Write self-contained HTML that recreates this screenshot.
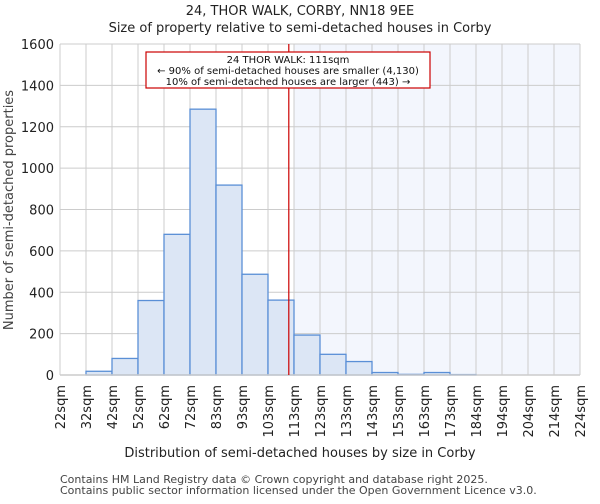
<!DOCTYPE html>
<html><head><meta charset="utf-8"><style>
body{margin:0;background:#fff;font-family:"DejaVu Sans","Liberation Sans",sans-serif;}
</style></head><body>
<svg width="600" height="500" xmlns="http://www.w3.org/2000/svg" font-family="DejaVu Sans, Liberation Sans, sans-serif">
<text x="300" y="15" text-anchor="middle" font-size="13" fill="#222">24, THOR WALK, CORBY, NN18 9EE</text>
<text x="300" y="32" text-anchor="middle" font-size="13" fill="#222">Size of property relative to semi-detached houses in Corby</text>
<g id="plot"></g>
<text x="300" y="457" text-anchor="middle" font-size="13" fill="#222">Distribution of semi-detached houses by size in Corby</text>
<text transform="translate(13,210) rotate(-90)" text-anchor="middle" font-size="13" fill="#444">Number of semi-detached properties</text>
<text x="60" y="483" font-size="11" fill="#444">Contains HM Land Registry data © Crown copyright and database right 2025.</text>
<text x="60" y="494" font-size="11" fill="#444">Contains public sector information licensed under the Open Government Licence v3.0.</text>
</svg>
<script>
const binEdges=[22,32,42,52,62,72,83,93,103,113,123,133,143,153,163,173,184,194,204,214,224];
const counts=[0,18,80,360,680,1285,918,487,362,193,100,65,12,3,12,2,0,0,0,0];
const yTicks=[0,200,400,600,800,1000,1200,1400,1600];
const propertyBinPos=8.8;
const highlightStartBin=9;
const NS="http://www.w3.org/2000/svg";
const g=document.getElementById('plot');
const L=60,R=580,T=44,B=375,yMax=1600;
const nb=counts.length;
const xb=i=>L+(R-L)*i/nb;
const y=v=>B-(B-T)*v/yMax;
function mk(t,a){const e=document.createElementNS(NS,t);for(const k in a)e.setAttribute(k,a[k]);g.appendChild(e);return e;}
let r=mk('rect',{x:xb(highlightStartBin),y:T,width:R-xb(highlightStartBin),height:B-T,fill:'#f3f6fd'});


yTicks.forEach(v=>{let l=mk('line',{x1:L,x2:R,y1:y(v),y2:y(v),stroke:'#ccc'});


let t=mk('text',{x:L-6,y:y(v)+5,'text-anchor':'end','font-size':13,fill:'#222'});t.textContent=v;

});
binEdges.forEach((v,i)=>{let l=mk('line',{x1:xb(i),x2:xb(i),y1:T,y2:B,stroke:'#ccc'});


let t=mk('text',{transform:`translate(${xb(i)+5},385) rotate(-90)`,'text-anchor':'end','font-size':13,fill:'#222'});t.textContent=v+'sqm';

});
counts.forEach((c,i)=>{let b=mk('rect',{x:xb(i),y:y(c),width:xb(i+1)-xb(i),height:B-y(c),fill:'#dce6f5',stroke:'#5a8fd6','stroke-width':1.3});

});
let ax=mk('line',{x1:L,x2:R,y1:B,y2:B,stroke:'#ccc','stroke-width':1.5});


const px=xb(propertyBinPos);
let pl=mk('line',{x1:px,x2:px,y1:T,y2:B,stroke:'#c00','stroke-width':1.2});


let box=mk('rect',{x:146,y:52,width:284,height:36,fill:'#fff',stroke:'#c00','stroke-width':1.2});


['24 THOR WALK: 111sqm','← 90% of semi-detached houses are smaller (4,130)','10% of semi-detached houses are larger (443) →'].forEach((s,i)=>{
let t=mk('text',{x:288,y:63+i*11,'text-anchor':'middle','font-size':10,fill:'#111'});t.textContent=s;

});
</script>
</body></html>
